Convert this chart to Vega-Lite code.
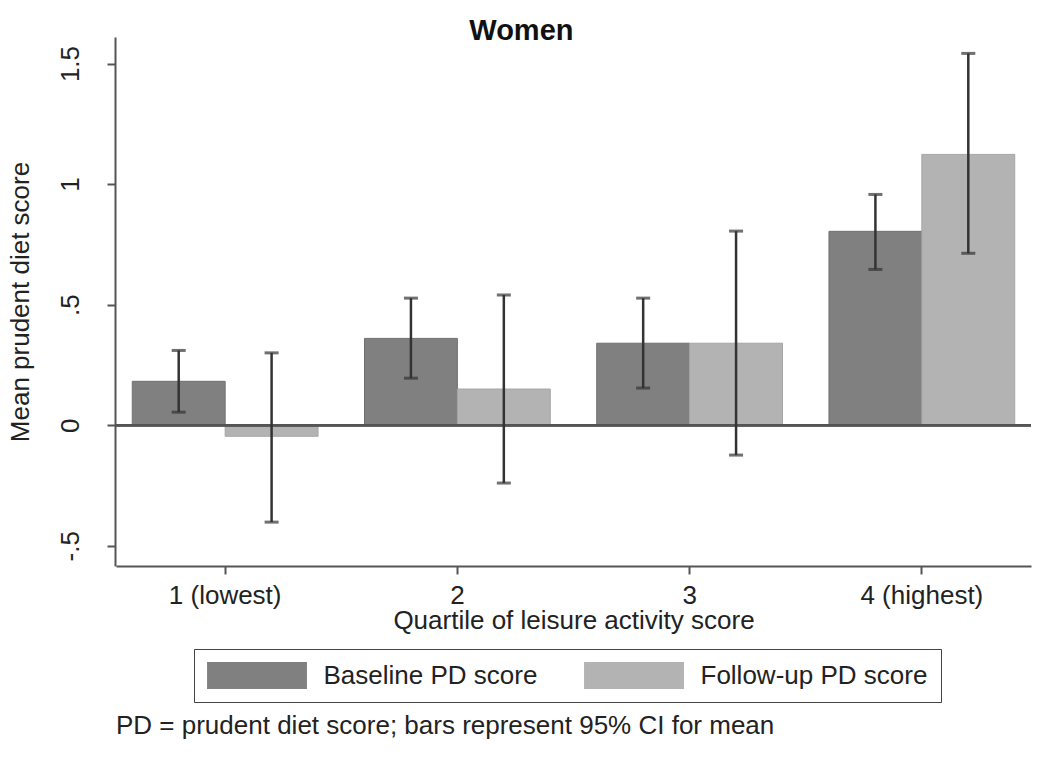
{
  "$schema": "https://vega.github.io/schema/vega-lite/v6.json",
  "background": "white",
  "padding": {"left": 6, "top": 17, "right": 16, "bottom": 10},
  "data": {"values": [
    {"panel": "Women", "quartile": "1 (lowest)", "series": "Baseline PD score", "mean": 0.182, "lo": 0.054, "hi": 0.31},
    {"panel": "Women", "quartile": "1 (lowest)", "series": "Follow-up PD score", "mean": -0.046, "lo": -0.402, "hi": 0.30},
    {"panel": "Women", "quartile": "2", "series": "Baseline PD score", "mean": 0.36, "lo": 0.195, "hi": 0.527},
    {"panel": "Women", "quartile": "2", "series": "Follow-up PD score", "mean": 0.15, "lo": -0.24, "hi": 0.54},
    {"panel": "Women", "quartile": "3", "series": "Baseline PD score", "mean": 0.34, "lo": 0.154, "hi": 0.527},
    {"panel": "Women", "quartile": "3", "series": "Follow-up PD score", "mean": 0.34, "lo": -0.124, "hi": 0.805},
    {"panel": "Women", "quartile": "4 (highest)", "series": "Baseline PD score", "mean": 0.804, "lo": 0.646, "hi": 0.957},
    {"panel": "Women", "quartile": "4 (highest)", "series": "Follow-up PD score", "mean": 1.123, "lo": 0.713, "hi": 1.542}
  ]},
  "title": {
    "text": "PD = prudent diet score; bars represent 95% CI for mean",
    "orient": "bottom",
    "anchor": "start",
    "frame": "group",
    "font": "Liberation Sans",
    "fontSize": 26,
    "fontWeight": "normal",
    "color": "#222",
    "offset": 10
  },
  "facet": {
    "column": {
      "field": "panel",
      "type": "nominal",
      "title": null,
      "header": {
        "labelFont": "Liberation Sans",
        "labelFontSize": 29,
        "labelFontWeight": "bold",
        "labelColor": "#111",
        "labelAlign": "right",
        "labelAnchor": "middle",
        "labelPadding": -9
      }
    }
  },
  "spec": {
    "width": 915,
    "height": 529,
    "encoding": {
      "x": {
        "field": "quartile",
        "type": "nominal",
        "sort": ["1 (lowest)", "2", "3", "4 (highest)"],
        "scale": {"paddingInner": 0.2, "paddingOuter": 0.07},
        "title": "Quartile of leisure activity score",
        "axis": {"labelAngle": 0, "labelPadding": 8, "titlePadding": -1}
      },
      "xOffset": {
        "field": "series",
        "type": "nominal",
        "sort": ["Baseline PD score", "Follow-up PD score"],
        "scale": {"paddingInner": 0, "paddingOuter": 0}
      }
    },
    "layer": [
      {
        "mark": {"type": "bar", "strokeWidth": 1},
        "encoding": {
          "y": {
            "field": "mean",
            "type": "quantitative",
            "scale": {"domain": [-0.584, 1.61], "nice": false, "zero": false},
            "axis": {
              "values": [-0.5, 0, 0.5, 1, 1.5],
              "labelExpr": "replace(toString(datum.value), '0.', '.')",
              "labelAngle": -90,
              "labelAlign": "center",
              "labelBaseline": "bottom",
              "labelPadding": 24,
              "titlePadding": 24
            },
            "title": "Mean prudent diet score"
          },
          "y2": {"datum": 0},
          "fill": {
            "field": "series",
            "type": "nominal",
            "sort": ["Baseline PD score", "Follow-up PD score"],
            "scale": {"range": ["#808080", "#b3b3b3"]},
            "legend": {
              "orient": "none",
              "legendX": 78,
              "legendY": 612,
              "direction": "horizontal",
              "title": null,
              "strokeColor": "#444",
              "fillColor": "white",
              "padding": 13,
              "symbolType": "M-3.7,-1L3.7,-1L3.7,1L-3.7,1Z",
              "symbolSize": 729,
              "symbolOffset": 36.5,
              "symbolStrokeWidth": 0,
              "symbolOpacity": 1,
              "labelFont": "Liberation Sans",
              "labelFontSize": 26,
              "labelColor": "#222",
              "labelOffset": 53,
              "columnPadding": 46,
              "labelLimit": 400
            }
          },
          "stroke": {
            "field": "series",
            "type": "nominal",
            "sort": ["Baseline PD score", "Follow-up PD score"],
            "scale": {"range": ["#707070", "#a6a6a6"]},
            "legend": null
          }
        }
      },
      {
        "mark": {"type": "rule", "color": "#555", "strokeWidth": 2},
        "encoding": {"y": {"datum": 0}, "x": null, "xOffset": null}
      },
      {
        "mark": {"type": "rule", "color": "#333", "strokeWidth": 2.5},
        "encoding": {
          "y": {"field": "lo", "type": "quantitative"},
          "y2": {"field": "hi"}
        }
      },
      {
        "mark": {"type": "tick", "color": "#333", "size": 14, "thickness": 3},
        "encoding": {"y": {"field": "lo", "type": "quantitative"}}
      },
      {
        "mark": {"type": "tick", "color": "#333", "size": 14, "thickness": 3},
        "encoding": {"y": {"field": "hi", "type": "quantitative"}}
      }
    ]
  },
  "config": {
    "view": {"stroke": null},
    "font": "Liberation Sans",
    "axis": {
      "labelFont": "Liberation Sans",
      "labelFontSize": 26,
      "labelColor": "#222",
      "titleFont": "Liberation Sans",
      "titleFontSize": 26,
      "titleFontWeight": "normal",
      "titleColor": "#222",
      "grid": false,
      "domainColor": "#555",
      "domainWidth": 2,
      "tickColor": "#555",
      "tickWidth": 2,
      "tickSize": 8,
      "labelPadding": 4
    }
  }
}
